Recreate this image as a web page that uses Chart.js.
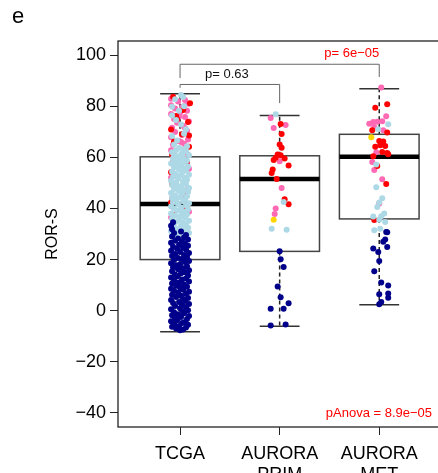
<!DOCTYPE html>
<html>
<head>
<meta charset="utf-8">
<script src="https://cdn.jsdelivr.net/npm/chart.js@4/dist/chart.umd.min.js"></script>
<style>
  html, body { margin: 0; padding: 0; background: #fff; overflow: hidden; }
  #wrap { position: absolute; left: 0; top: 0; width: 445px; height: 473px; }
</style>
</head>
<body>
<div id="wrap"><canvas id="ror" width="445" height="473"></canvas></div>
<script>
// Cohorts and box summaries (ROR-S)
const cohorts = ['TCGA', ['AURORA', 'PRIM'], ['AURORA', 'MET']];
const q1 = [20.0, 23.2, 35.9];
const medians = [41.7, 51.5, 60.2];
const q3 = [60.2, 60.6, 69.0];
const whiskLo = [-8.2, -6.1, 2.3];
const whiskHi = [84.9, 76.4, 86.8];
const yTicks = [-40, -20, 0, 20, 40, 60, 80, 100];

const pPairs = ['p= 0.63', 'p= 6e\u221205'];
const pAnova = 'pAnova = 8.9e\u221205';

// Per-sample points: [jitter offset, ROR-S], one list per subtype and cohort
const tcgaLumA = [[0.00,-7.7],[0.03,-7.4],[-0.04,-7.0],[0.06,-6.6],[-0.08,-6.3],[-0.01,-6.0],[0.08,-5.5],[-0.06,-5.2],[0.02,-4.8],[0.05,-4.4],
  [-0.09,-4.1],[-0.03,-3.7],[0.07,-3.3],[-0.05,-2.9],[0.01,-2.5],[0.09,-2.1],[-0.08,-1.8],[-0.02,-1.4],[0.04,-1.0],[-0.06,-0.6],
  [0.03,-0.2],[0.08,0.2],[-0.09,0.6],[0.00,1.0],[0.06,1.4],[-0.05,1.8],[0.02,2.2],[0.09,2.6],[-0.07,3.0],[-0.01,3.4],
  [0.05,3.8],[-0.09,4.2],[0.03,4.6],[0.08,5.0],[-0.04,5.4],[0.01,5.8],[-0.08,6.2],[0.06,6.6],[-0.02,7.0],[0.09,7.4],
  [-0.06,7.8],[0.03,8.2],[-0.09,8.6],[0.00,9.0],[0.07,9.4],[-0.04,9.8],[0.04,10.2],[-0.08,10.6],[-0.01,11.0],[0.09,11.4],
  [-0.06,11.8],[0.02,12.2],[0.06,12.6],[-0.09,13.0],[-0.03,13.4],[0.08,13.8],[-0.05,14.2],[0.01,14.6],[0.05,15.0],[-0.08,15.4],
  [0.09,15.8],[-0.02,16.2],[0.03,16.6],[-0.07,17.0],[0.07,17.4],[-0.04,17.8],[0.00,18.2],[-0.09,18.6],[0.05,19.0],[0.09,19.4],
  [-0.06,19.8],[0.02,20.2],[-0.02,20.6],[0.07,21.0],[-0.08,21.4],[0.04,21.8],[-0.05,22.2],[0.09,22.6],[0.00,23.0],[-0.09,23.4],
  [0.06,23.8],[-0.03,24.2],[0.03,24.6],[-0.07,25.0],[0.08,25.4],[-0.01,25.8],[0.05,26.2],[-0.09,26.6],[0.02,27.0],[-0.05,27.4],
  [0.08,27.8],[-0.02,28.2],[0.04,28.6],[-0.08,29.0],[0.06,29.6],[-0.06,30.4],[0.01,31.0],[-0.08,31.9],[-0.09,33.2],[-0.07,34.6]];
const tcgaLumB = [[0.07,28.0],[-0.03,28.4],[0.02,28.8],[-0.08,29.2],[0.05,29.6],[-0.05,30.0],[0.09,30.4],[0.00,30.8],[-0.09,31.2],[0.04,31.6],
  [-0.02,32.0],[0.08,32.4],[-0.06,32.8],[0.01,33.2],[0.06,33.6],[-0.07,34.0],[0.03,34.4],[-0.04,34.8],[0.09,35.2],[-0.01,35.6],
  [-0.08,36.0],[0.05,36.4],[0.00,36.8],[-0.05,37.2],[0.07,37.6],[-0.09,38.0],[0.02,38.4],[0.04,38.8],[-0.03,39.2],[0.08,39.6],
  [-0.06,40.0],[0.01,40.4],[-0.09,40.8],[0.06,41.2],[-0.02,41.6],[0.09,42.0],[-0.07,42.4],[0.03,42.8],[-0.04,43.2],[0.05,43.6],
  [-0.08,44.0],[0.00,44.4],[0.07,44.8],[-0.05,45.2],[0.02,45.6],[-0.09,46.0],[0.08,46.4],[-0.01,46.8],[0.04,47.2],[-0.06,47.6],
  [0.09,48.0],[-0.03,48.4],[0.01,48.8],[-0.08,49.2],[0.06,49.6],[-0.04,50.0],[0.03,50.4],[-0.09,50.8],[0.07,51.2],[-0.02,51.6],
  [0.05,52.0],[-0.07,52.4],[0.00,52.8],[0.09,53.2],[-0.05,53.6],[0.02,54.0],[-0.08,54.4],[0.06,54.8],[-0.01,55.2],[0.04,55.6],
  [-0.06,56.0],[0.08,56.4],[-0.03,56.8],[0.01,57.2],[-0.09,57.6],[0.05,58.0],[-0.04,58.4],[0.07,58.8],[0.00,59.2],[-0.07,59.6],
  [0.03,60.0],[-0.02,60.4],[0.09,60.8],[-0.06,61.2],[0.02,61.6],[-0.08,62.0],[0.06,62.4],[-0.04,62.8],[0.04,63.2],[-0.01,63.6],
  [0.07,64.3],[-0.06,65.0],[-0.03,66.6],[-0.08,68.3],[0.04,69.2],[0.06,71.0],[0.01,72.8],[-0.04,74.6],[-0.08,76.4],[-0.01,78.2],
  [-0.08,79.8],[0.04,80.0],[-0.05,82.7],[0.03,83.6],[0.01,84.4]];
const tcgaHer2 = [[-0.09,36.5],[0.09,38.7],[-0.08,44.0],[0.08,47.6],[-0.09,52.0],[0.09,55.5],[-0.07,58.3],[0.08,60.9],[-0.09,62.8],[0.06,63.8],
  [-0.07,64.9],[0.04,65.3],[-0.02,66.4],[0.08,67.0],[-0.09,67.8],[0.02,68.7],[-0.05,69.9],[0.07,70.4],[-0.08,71.6],[0.03,72.3],
  [-0.03,73.5],[0.09,74.0],[-0.06,75.0],[0.05,75.8],[-0.09,76.9],[0.00,77.4],[0.07,78.2],[-0.05,79.1],[0.04,80.0],[-0.09,80.4],
  [0.08,81.0],[-0.02,81.8],[0.05,82.4],[-0.09,82.9],[0.01,66.0],[0.05,71.5],[-0.01,75.9],[0.02,79.6]];
const tcgaBasal = [[-0.07,83.7],[0.10,81.1],[0.03,78.5],[-0.04,76.2],[0.08,73.8],[-0.09,70.9],[0.02,69.0],[-0.06,66.2],[0.09,64.1],[-0.08,61.0],
  [0.07,58.1],[-0.09,54.2],[0.05,51.0],[-0.08,49.6],[0.06,45.2],[-0.09,42.3],[0.03,40.1],[-0.06,37.4],[0.09,68.5],[-0.03,74.9]];

const primLumA = [[0.00,23.3],[0.01,20.1],[0.04,17.1],[-0.02,9.5],[0.01,5.3],[0.09,2.9],[-0.09,0.8],[0.04,0.8],[-0.09,-5.8],[0.06,-5.4]];
const primLumB = [[-0.04,76.8],[0.04,42.5],[-0.08,32.1],[0.07,31.7]];
const primHer2 = [[-0.09,75.4],[0.06,72.6],[-0.06,71.5],[0.00,58.5],[0.02,48.0],[-0.04,40.0],[-0.05,37.8]];
const primBasal = [[0.01,73.0],[0.02,69.1],[0.00,65.0],[0.02,63.7],[-0.02,61.1],[0.01,60.8],[-0.04,59.8],[0.05,59.5],[-0.06,58.9],[0.09,56.8],
  [-0.07,55.2],[-0.08,53.9],[-0.03,51.5],[0.05,43.6],[0.09,41.6]];
const primNormal = [[-0.06,35.6]];

const metLumA = [[0.07,30.8],[0.08,30.7],[0.06,27.8],[0.04,27.0],[0.08,24.9],[-0.06,24.3],[-0.01,23.0],[0.00,19.4],[-0.05,15.4],[0.02,11.0],
  [0.09,9.9],[0.00,6.4],[0.09,6.7],[0.09,5.1],[0.02,3.4],[0.00,2.5]];
const metLumB = [[0.09,72.9],[-0.01,71.0],[-0.03,57.2],[-0.03,48.3],[0.03,44.0],[0.00,42.3],[-0.02,40.6],[0.05,38.0],[-0.06,36.8],[0.02,36.9],
  [0.00,35.6],[0.06,34.7],[-0.05,31.5],[0.01,32.1]];
const metHer2 = [[0.02,87.3],[0.07,76.1],[-0.10,73.1],[-0.06,73.8],[-0.02,73.9],[0.03,74.1],[-0.05,71.9],[0.04,70.6],[-0.03,62.0],[-0.07,58.2],
  [-0.05,55.0],[0.03,51.4],[0.00,41.9]];
const metBasal = [[0.08,80.8],[-0.04,79.4],[-0.07,70.6],[0.08,69.7],[0.00,66.4],[0.04,66.2],[0.01,64.7],[-0.04,64.1],[0.06,64.4],[0.03,62.1],
  [0.08,61.7],[-0.06,60.4],[0.09,61.2],[-0.02,56.6],[0.07,49.6],[-0.05,35.5]];
const metNormal = [[-0.08,67.8]];

const FONT = "'Liberation Sans', Arial, Helvetica, sans-serif";

// turn [offset, value] lists into scatter points around cohort position 1..3
function place(groups) {
  const out = [];
  groups.forEach((pts, i) => pts.forEach(p => out.push({ x: i + 1 + p[0], y: p[1] })));
  return out;
}

function subtype(label, color, groups) {
  return {
    label, data: place(groups),
    backgroundColor: color, borderWidth: 0,
    pointRadius: 3, pointHoverRadius: 3
  };
}

function line(ctx, x0, y0, x1, y1) {
  ctx.beginPath();
  ctx.moveTo(x0, y0);
  ctx.lineTo(x1, y1);
  ctx.stroke();
}

// boxes, whiskers and medians under the points
const boxPlugin = {
  id: 'boxes',
  beforeDatasetsDraw(chart) {
    const { ctx, scales: { x, y } } = chart;
    ctx.save();
    for (let i = 0; i < cohorts.length; i++) {
      const pos = i + 1;
      const cx = x.getPixelForValue(pos);
      const left = x.getPixelForValue(pos - 0.4);
      const right = x.getPixelForValue(pos + 0.4);
      const capL = x.getPixelForValue(pos - 0.2);
      const capR = x.getPixelForValue(pos + 0.2);
      const yLo = y.getPixelForValue(whiskLo[i]);
      const yHi = y.getPixelForValue(whiskHi[i]);
      const yQ1 = y.getPixelForValue(q1[i]);
      const yQ3 = y.getPixelForValue(q3[i]);
      const yMed = y.getPixelForValue(medians[i]);

      ctx.strokeStyle = '#222';
      ctx.lineWidth = 1.5;
      ctx.setLineDash([4, 3]);
      line(ctx, cx, yQ3, cx, yHi);
      line(ctx, cx, yQ1, cx, yLo);
      ctx.setLineDash([]);
      ctx.strokeStyle = '#333';
      line(ctx, capL, yHi, capR, yHi);
      line(ctx, capL, yLo, capR, yLo);

      ctx.strokeStyle = '#444';
      ctx.strokeRect(left, yQ3, right - left, yQ1 - yQ3);

      ctx.strokeStyle = '#000';
      ctx.lineWidth = 4.5;
      line(ctx, left, yMed, right, yMed);
    }
    ctx.restore();
  }
};

// frame, comparison brackets, p-values and panel letter
const annotPlugin = {
  id: 'annot',
  afterDatasetsDraw(chart) {
    const { ctx, chartArea: a, scales: { x, y } } = chart;
    ctx.save();
    ctx.strokeStyle = '#222';
    ctx.lineWidth = 1.3;
    ctx.strokeRect(a.left, a.top, a.right - a.left, a.bottom - a.top);

    ctx.strokeStyle = '#666';
    ctx.lineWidth = 1;
    const bracket = (from, to, top, dropL, dropR) => {
      const x0 = x.getPixelForValue(from), x1 = x.getPixelForValue(to);
      const yt = y.getPixelForValue(top);
      ctx.beginPath();
      ctx.moveTo(x0, y.getPixelForValue(dropL));
      ctx.lineTo(x0, yt);
      ctx.lineTo(x1, yt);
      ctx.lineTo(x1, y.getPixelForValue(dropR));
      ctx.stroke();
    };
    bracket(1, 2, 88.5, 87.2, 81.2);
    bracket(1, 3, 96.4, 91.0, 91.4);

    ctx.font = '13px ' + FONT;
    ctx.textBaseline = 'middle';
    ctx.fillStyle = '#111';
    ctx.textAlign = 'center';
    ctx.fillText(pPairs[0], x.getPixelForValue(1.47), y.getPixelForValue(92.6));
    ctx.fillStyle = '#ff0000';
    ctx.textAlign = 'right';
    ctx.fillText(pPairs[1], x.getPixelForValue(3.0), y.getPixelForValue(100.8));
    ctx.fillText(pAnova, x.getPixelForValue(3.53), y.getPixelForValue(-40.1));

    ctx.fillStyle = '#000';
    ctx.textAlign = 'left';
    ctx.font = '22px ' + FONT;
    ctx.fillText('e', 12, 17);
    ctx.restore();
  }
};

const axisTick = { drawOnChartArea: false, drawTicks: true, tickLength: 8, color: '#222', lineWidth: 1 };

new Chart(document.getElementById('ror'), {
  type: 'scatter',
  plugins: [boxPlugin, annotPlugin],
  data: {
    // first dataset is painted last (on top)
    datasets: [
      subtype('Normal', '#ffd700', [[], primNormal, metNormal]),
      subtype('LumA', '#00008b', [tcgaLumA, primLumA, metLumA]),
      subtype('LumB', '#add8e6', [tcgaLumB, primLumB, metLumB]),
      subtype('Basal', '#ff0000', [tcgaBasal, primBasal, metBasal]),
      subtype('Her2', '#ff69b4', [tcgaHer2, primHer2, metHer2])
    ]
  },
  options: {
    responsive: false,
    devicePixelRatio: 1,
    animation: false,
    events: [],
    layout: { padding: { top: 41, right: 6, left: 0, bottom: 0 } },
    plugins: { legend: { display: false }, tooltip: { enabled: false } },
    scales: {
      x: {
        type: 'linear', min: 0.377, max: 3.6,
        afterBuildTicks: s => { s.ticks = [1, 2, 3].map(v => ({ value: v })); },
        afterFit: s => { s.height = 46; },
        grid: axisTick,
        border: { display: false },
        ticks: {
          autoSkip: false, maxRotation: 0, padding: 8, color: '#000',
          font: { family: FONT, size: 18 },
          callback: v => cohorts[v - 1]
        }
      },
      y: {
        type: 'linear', min: -45.5, max: 105.5,
        afterBuildTicks: s => { s.ticks = yTicks.map(v => ({ value: v })); },
        afterFit: s => { s.width = 118; },
        grid: axisTick,
        border: { display: false },
        title: {
          display: true, text: 'ROR-S', color: '#000',
          font: { family: FONT, size: 16 }, padding: { top: 43, bottom: 0 }
        },
        ticks: {
          padding: 4, color: '#000',
          font: { family: FONT, size: 18 },
          callback: v => v < 0 ? '\u2212' + Math.abs(v) : String(v)
        }
      }
    }
  }
});
</script>
</body>
</html>
